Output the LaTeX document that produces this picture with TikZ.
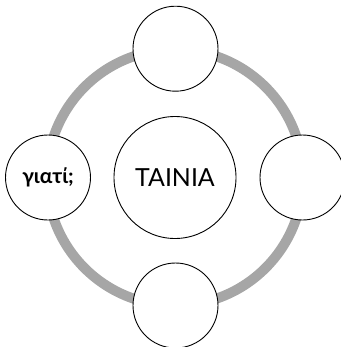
\documentclass[tikz,border=0pt]{standalone}
\usepackage{fontspec}
\setmainfont{Lato}
\begin{document}
\begin{tikzpicture}[x=1bp,y=-1bp,
  ring/.style={draw=black!35,line width=10bp},
  bubble/.style={circle,draw=black,line width=0.9bp,fill=white,inner sep=0pt,minimum size=85bp},
  hub/.style={circle,draw=black,line width=0.9bp,fill=white,inner sep=0pt,minimum size=122bp}]
\useasboundingbox (0,0) rectangle (341,347);
\coordinate (c) at (175,177.5);
\draw[ring] (c) circle[radius=128];
\node[hub] (center) at (c) {\fontsize{25}{28}\selectfont ΤΑΙΝΙΑ};
\node[bubble] (top) at (175.5,48.7) {};
\node[bubble] (left) at (48,177.5) {\fontsize{21}{24}\selectfont\bfseries γιατί;};
\node[bubble] (right) at (302.5,177.5) {};
\node[bubble] (bottom) at (175.5,305.5) {};
\end{tikzpicture}
\end{document}
